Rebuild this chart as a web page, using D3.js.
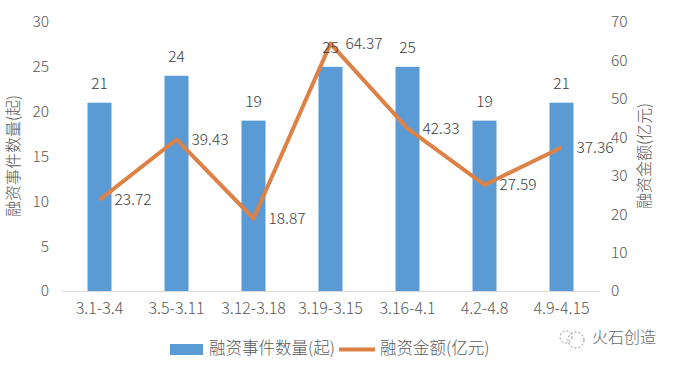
<!DOCTYPE html>
<html>
<head>
  <meta charset="utf-8">
  <title>融资事件数量与融资金额</title>
  <script src="https://d3js.org/d3.v7.min.js"></script>
  <style>
    html, body { margin: 0; padding: 0; background: #fff; }
    svg { display: block; }
    text { font-family: "Noto Sans CJK SC", "Noto Sans", sans-serif; font-weight: 300; }
  </style>
</head>
<body>
  <div id="graphContainer"></div>

  <script>
    const weeks = ["3.1-3.4", "3.5-3.11", "3.12-3.18", "3.19-3.15", "3.16-4.1", "4.2-4.8", "4.9-4.15"];
    const eventCounts = [21, 24, 19, 25, 25, 19, 21];
    const amounts = [23.72, 39.43, 18.87, 64.37, 42.33, 27.59, 37.36];
    const leftTicks = [0, 5, 10, 15, 20, 25, 30];
    const rightTicks = [0, 10, 20, 30, 40, 50, 60, 70];
    const leftTitle = "融资事件数量(起)";
    const rightTitle = "融资金额(亿元)";
    const watermark = "火石创造";

    const barColor = "#5b9bd5";
    const lineColor = "#dd8246";
    const textColor = "#595959";
    const labelColor = "#404040";

    const svg = d3.select("#graphContainer").append("svg").attr("width", 676).attr("height", 368);

    const xScale = d3.scaleBand().domain(weeks).range([61, 600]);
    const yLeft = d3.scaleLinear().domain([0, 30]).range([291, 22]);
    const yRight = d3.scaleLinear().domain([0, 70]).range([291, 22]);
    const center = d => xScale(d) + xScale.bandwidth() / 2;

    // bars
    svg.append("g").selectAll("rect")
      .data(weeks)
      .join("rect")
      .attr("x", d => center(d) - 12)
      .attr("width", 24)
      .attr("y", (d, i) => yLeft(eventCounts[i]))
      .attr("height", (d, i) => yLeft(0) - yLeft(eventCounts[i]))
      .attr("fill", barColor);

    // baseline + category labels
    const xAxis = svg.append("g")
      .attr("transform", "translate(0,291)")
      .call(d3.axisBottom(xScale).tickSize(0).tickPadding(12));
    xAxis.select(".domain").attr("stroke", "#d9d9d9");
    xAxis.selectAll("text").attr("font-size", 16).attr("fill", textColor);

    // value axes, no lines
    const leftAxis = svg.append("g")
      .attr("transform", "translate(49,0)")
      .call(d3.axisLeft(yLeft).tickValues(leftTicks).tickSize(0).tickPadding(0));
    const rightAxis = svg.append("g")
      .attr("transform", "translate(611,0)")
      .call(d3.axisRight(yRight).tickValues(rightTicks).tickSize(0).tickPadding(0));
    [leftAxis, rightAxis].forEach(a => {
      a.select(".domain").remove();
      a.selectAll("text").attr("font-size", 15.5).attr("fill", textColor);
    });

    // amount line
    const line = d3.line()
      .x((d, i) => center(weeks[i]))
      .y(d => yRight(d));
    svg.append("path")
      .datum(amounts)
      .attr("fill", "none")
      .attr("stroke", lineColor)
      .attr("stroke-width", 4)
      .attr("stroke-linejoin", "round")
      .attr("d", line);

    // data labels
    svg.append("g").selectAll("text")
      .data(eventCounts)
      .join("text")
      .attr("x", (d, i) => center(weeks[i]))
      .attr("y", d => yLeft(d) - 18)
      .attr("text-anchor", "middle")
      .attr("dominant-baseline", "middle")
      .attr("font-size", 15.5)
      .attr("fill", labelColor)
      .text(d => d);

    svg.append("g").selectAll("text")
      .data(amounts)
      .join("text")
      .attr("x", (d, i) => center(weeks[i]) + 15)
      .attr("y", d => yRight(d) + 1)
      .attr("dominant-baseline", "middle")
      .attr("font-size", 15.5)
      .attr("fill", labelColor)
      .text(d => d);

    // axis titles
    svg.append("text")
      .attr("transform", "translate(15,156) rotate(-90)")
      .attr("text-anchor", "middle")
      .attr("dominant-baseline", "middle")
      .attr("font-size", 16)
      .attr("fill", textColor)
      .text(leftTitle);
    svg.append("text")
      .attr("transform", "translate(646,156) rotate(-90)")
      .attr("text-anchor", "middle")
      .attr("dominant-baseline", "middle")
      .attr("font-size", 16)
      .attr("fill", textColor)
      .text(rightTitle);

    // legend
    const legend = svg.append("g");
    legend.append("rect").attr("x", 170).attr("y", 344).attr("width", 33).attr("height", 11).attr("fill", barColor);
    legend.append("text").attr("x", 209).attr("y", 349.5).attr("dominant-baseline", "middle")
      .attr("font-size", 16.5).attr("fill", textColor).text(leftTitle);
    legend.append("line").attr("x1", 339).attr("x2", 375).attr("y1", 349.5).attr("y2", 349.5)
      .attr("stroke", lineColor).attr("stroke-width", 4);
    legend.append("text").attr("x", 380).attr("y", 349.5).attr("dominant-baseline", "middle")
      .attr("font-size", 16.5).attr("fill", textColor).text(rightTitle);

    // watermark
    const mark = svg.append("g").attr("fill", "none").attr("stroke", "#8c8c8c").attr("stroke-width", 1);
    mark.append("circle").attr("cx", 576).attr("cy", 340).attr("r", 8).attr("stroke-dasharray", "2,2");
    mark.append("circle").attr("cx", 566).attr("cy", 337).attr("r", 6).attr("stroke-dasharray", "2,2");
    svg.append("text").attr("x", 592).attr("y", 339).attr("dominant-baseline", "middle")
      .attr("font-size", 16).attr("fill", "#666").text(watermark);
  </script>
</body>
</html>
